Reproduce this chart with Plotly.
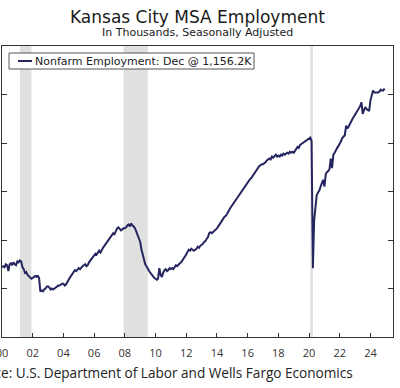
import pandas as pd
import plotly.graph_objects as go

# Monthly nonfarm employment, Kansas City MSA (thousands, SA), Jan 2000 - Dec 2024
y2000 = [972, 973, 972, 975, 974, 968, 975, 976, 974, 977, 975, 974]
y2001 = [978, 977, 979, 978, 972, 970, 966, 967, 964, 963, 961, 960]
y2002 = [961, 962, 963, 962, 963, 961, 947, 948, 947, 949, 950, 952]
y2003 = [952, 951, 949, 950, 949, 950, 951, 952, 953, 953, 954, 955]
y2004 = [955, 953, 954, 957, 959, 961, 963, 965, 968, 969, 968, 970]
y2005 = [971, 970, 972, 973, 974, 975, 973, 974, 977, 979, 980, 982]
y2006 = [984, 986, 985, 987, 989, 987, 990, 992, 994, 996, 998, 1000]
y2007 = [1001, 1003, 1005, 1007, 1006, 1009, 1012, 1013, 1011, 1010, 1011, 1012]
y2008 = [1012, 1013, 1015, 1016, 1014, 1017, 1015, 1014, 1012, 1009, 1006, 1003]
y2009 = [998, 990, 985, 978, 975, 973, 970, 968, 966, 964, 962, 961]
y2010 = [960, 959, 960, 971, 964, 962, 966, 969, 970, 968, 969, 971]
y2011 = [970, 971, 970, 972, 974, 973, 975, 976, 977, 979, 980, 982]
y2012 = [985, 988, 990, 989, 991, 990, 989, 990, 991, 993, 992, 994]
y2013 = [995, 996, 998, 999, 1001, 1003, 1007, 1008, 1007, 1008, 1009, 1010]
y2014 = [1012, 1014, 1016, 1019, 1021, 1022, 1024, 1025, 1027, 1030, 1032, 1034]
y2015 = [1036, 1038, 1040, 1042, 1044, 1046, 1047, 1049, 1051, 1053, 1055, 1057]
y2016 = [1059, 1061, 1063, 1064, 1066, 1068, 1070, 1073, 1074, 1076, 1077, 1078]
y2017 = [1078, 1079, 1080, 1082, 1083, 1084, 1083, 1086, 1085, 1087, 1088, 1086]
y2018 = [1087, 1086, 1088, 1087, 1089, 1088, 1089, 1090, 1089, 1091, 1090, 1091]
y2019 = [1090, 1092, 1094, 1096, 1095, 1098, 1099, 1100, 1101, 1102, 1103, 1104]
y2020 = [1105, 1105.5, 1102, 971, 1020, 1038, 1046, 1049, 1051, 1055, 1060, 1062]
y2021 = [1055, 1068, 1070, 1071, 1073, 1084, 1074, 1088, 1090, 1093, 1095, 1097]
y2022 = [1099, 1102, 1105, 1107, 1108, 1118, 1115, 1117, 1120, 1123, 1125, 1127]
y2023 = [1129, 1131, 1133, 1136, 1138, 1142, 1130, 1134, 1137, 1135, 1134, 1133]
y2024 = [1144, 1149, 1154, 1152, 1152, 1152, 1152, 1153, 1155, 1154, 1154, 1156.2]

values = (y2000 + y2001 + y2002 + y2003 + y2004 + y2005 + y2006 + y2007 + y2008
          + y2009 + y2010 + y2011 + y2012 + y2013 + y2014 + y2015 + y2016 + y2017
          + y2018 + y2019 + y2020 + y2021 + y2022 + y2023 + y2024)
dates = pd.date_range("2000-01-01", periods=len(values), freq="MS")

tick_dates = [f"{y}-01-01" for y in range(2000, 2025, 2)]
tick_labels = ["00", "02", "04", "06", "08", "10", "12", "14", "16", "18", "20", "22", "24"]

recessions = [("2001-03-01", "2001-11-30"), ("2007-12-01", "2009-06-30"), ("2020-02-01", "2020-04-01")]

series_name = "Nonfarm Employment: Dec @ 1,156.2K"
line_color = "#25255f"

# plot-area geometry in pixels (used only to place texts / legend box)
L, R, T, B = 2, 393, 46, 337
W, H = R - L, B - T


def px(xp):
    return (xp - L) / W


def py(yp):
    return (B - yp) / H


fig = go.Figure()
fig.add_trace(go.Scatter(x=dates, y=values, mode="lines", name=series_name,
                         line=dict(color=line_color, width=2), showlegend=False))

for x0, x1 in recessions:
    fig.add_shape(type="rect", xref="x", yref="paper", x0=x0, x1=x1, y0=0, y1=1,
                  fillcolor="#e0e0e0", line=dict(width=0), layer="below")

# legend box (drawn manually to match the compact original)
fig.add_shape(type="rect", xref="paper", yref="paper", x0=px(9), x1=px(254),
              y0=py(69), y1=py(53), fillcolor="white",
              line=dict(color="#555555", width=1), layer="above")
fig.add_shape(type="line", xref="paper", yref="paper", x0=px(18), x1=px(32),
              y0=py(61), y1=py(61), line=dict(color=line_color, width=2), layer="above")

fig.update_layout(
    width=400, height=388,
    margin=dict(l=L, r=400 - R, t=T, b=388 - B),
    paper_bgcolor="white", plot_bgcolor="white",
    font=dict(family="DejaVu Sans", color="#222222"),
    showlegend=False,
    xaxis=dict(type="date", range=["2000-01-01", "2025-06-20"],
               tickvals=tick_dates, ticktext=tick_labels,
               ticks="inside", ticklen=4, tickcolor="#333333",
               showline=True, linecolor="#333333", linewidth=1, mirror=True,
               showgrid=False, zeroline=False, automargin=False,
               ticklabeloverflow="allow",
               tickfont=dict(family="Open Sans", size=11, color="#333333"),
               ticklabelstandoff=6),
    yaxis=dict(range=[900, 1200], dtick=50, tick0=900,
               ticks="inside", ticklen=5, tickcolor="#333333",
               showline=True, linecolor="#333333", linewidth=1, mirror="ticks",
               showgrid=False, zeroline=False, showticklabels=False, automargin=False),
    annotations=[
        dict(text="Kansas City MSA Employment", xref="paper", yref="paper",
             x=px(197), y=py(17), xanchor="center", yanchor="middle",
             showarrow=False, font=dict(family="DejaVu Sans", size=17, color="#1a1a1a")),
        dict(text="In Thousands, Seasonally Adjusted", xref="paper", yref="paper",
             x=px(197), y=py(33), xanchor="center", yanchor="middle",
             showarrow=False, font=dict(family="DejaVu Sans", size=11, color="#1a1a1a")),
        dict(text=series_name, xref="paper", yref="paper",
             x=px(33), y=py(61), xanchor="left", yanchor="middle",
             showarrow=False, font=dict(family="DejaVu Sans", size=11, color="#222222")),
        dict(text="Source: U.S. Department of Labor and Wells Fargo Economics",
             xref="paper", yref="paper",
             x=px(355), y=py(372), xanchor="right", yanchor="middle",
             showarrow=False, font=dict(family="Open Sans", size=13.6, color="#222222")),
    ],
)

fig.write_html("out.html", config={"displayModeBar": False},
               post_script="document.body.style.margin='0';")
